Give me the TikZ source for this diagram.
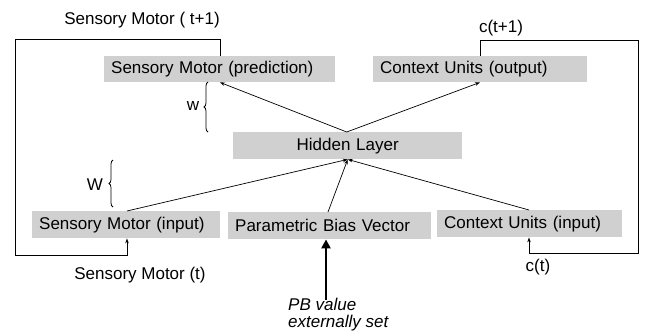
\documentclass[tikz,border=0pt]{standalone}
\usepackage{fontspec}
\setmainfont{Liberation Sans}
\usetikzlibrary{arrows.meta,decorations.pathreplacing}
\definecolor{boxgray}{RGB}{208,208,208}
\tikzset{
  base/.style={font=\fontsize{17}{19}\selectfont},
  box/.style={base, fill=boxgray, inner xsep=7pt, inner ysep=0pt, align=left, anchor=north west},
  lbl/.style={base, inner sep=0pt},
  loop/.style={line width=0.9pt},
  conn/.style={line width=0.7pt, -{Stealth[length=5pt,width=3.5pt]}},
  bigarr/.style={line width=2.6pt, -{Triangle[length=9pt,width=9pt]}},
  bracestyle/.style={line width=0.8pt, decorate, decoration={brace, amplitude=4pt}}
}
\begin{document}
\begin{tikzpicture}[x=1pt,y=-1pt]
\useasboundingbox (0,0) rectangle (648,335);
% boxes
\node[box, text width=217pt, minimum height=26pt] (pred) at (104,56) {Sensory Motor (prediction)};
\node[box, text width=200pt, minimum height=26pt] (ctxout) at (373,56) {Context Units (output)};
\node[box, text width=215pt, minimum height=27pt, align=center] (hidden) at (233,132) {Hidden Layer};
\node[box, text width=174pt, minimum height=27pt] (smin) at (32,211) {Sensory Motor (input)};
\node[box, text width=189pt, minimum height=27pt] (pb) at (228,212) {Parametric Bias Vector};
\node[box, text width=171pt, minimum height=27pt] (ctxin) at (437,210) {Context Units (input)};
% labels
\node[lbl] (lsmt1) at (142,20) {Sensory Motor ( t+1)};
\node[lbl] (lct1) at (501,28) {c(t+1)};
\node[lbl] (lsmt) at (140,275) {Sensory Motor (t)};
\node[lbl] (lct) at (538,267) {c(t)};
\node[lbl] (lw) at (193,106) {w};
\node[lbl] (lW) at (95,185) {W};
\node[base, inner sep=0pt, align=left, anchor=north west, font=\fontsize{17}{17}\selectfont\itshape] (pbtxt) at (288,298) {PB value\\externally set};
% feedback loops
\coordinate (lt) at (15,39);
\coordinate (lb) at (15,255);
\draw[loop, -{Stealth[length=5pt,width=3.5pt]}] ([xshift=116pt]pred.north west) |- (lt) -- (lb) -| ([xshift=95pt]smin.south west);
\coordinate (rt) at (638,40);
\coordinate (rb) at (638,253);
\draw[loop, -{Stealth[length=5pt,width=3.5pt]}] ([xshift=107pt]ctxout.north west) |- (rt) -- (rb) -| ([xshift=92pt]ctxin.south west);
% connections
\draw[conn] ([xshift=-1pt]hidden.north) -- ([xshift=116pt]pred.south west);
\draw[conn] ([xshift=-1pt]hidden.north) -- ([xshift=107pt]ctxout.south west);
\draw[conn] ([xshift=95pt]smin.north west) -- (hidden.south);
\draw[conn] ([xshift=100pt]pb.north west) -- (hidden.south);
\draw[conn] ([xshift=92pt]ctxin.north west) -- (hidden.south);
% external PB arrow
\coordinate (pbsrc) at (326,300);
\draw[bigarr] (pbsrc) -- ([xshift=98pt]pb.south west);
% braces
\draw[bracestyle] (208,132) -- (208,82);
\draw[bracestyle] (113,207) -- (113,160);
\end{tikzpicture}
\end{document}
